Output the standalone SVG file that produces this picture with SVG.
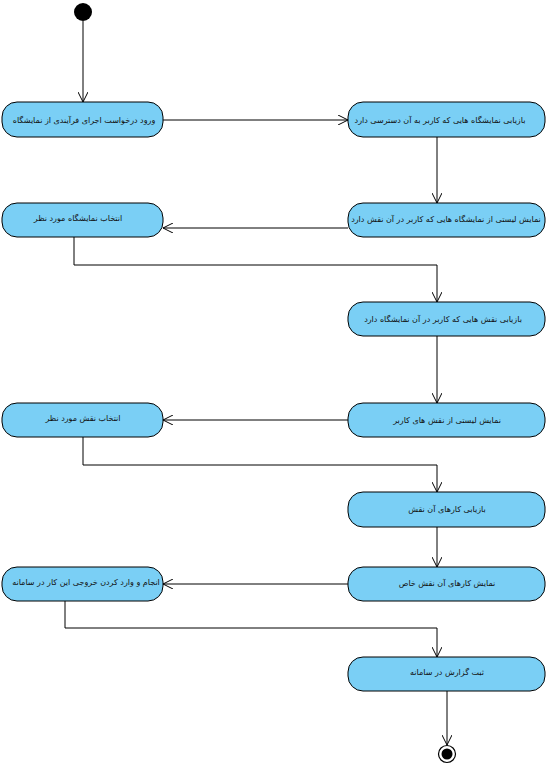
<svg xmlns="http://www.w3.org/2000/svg" width="550" height="768" viewBox="0 0 550 768">
<style>
.n{fill:#7acff5;stroke:#000;stroke-width:1}
.t{font-family:"DejaVu Sans",sans-serif;font-size:8px;fill:#111;text-anchor:middle;dominant-baseline:central}
.c{fill:none;stroke:#000;stroke-width:1}
</style>
<defs>
<marker id="a" viewBox="0 0 10 10" refX="10" refY="5" markerWidth="10" markerHeight="10" markerUnits="userSpaceOnUse" orient="auto">
<path d="M0,0 L10,5 L0,10" fill="none" stroke="#000" stroke-width="1"/>
</marker>
</defs>
<rect width="550" height="768" fill="#fff"/>
<g id="start"><circle cx="83" cy="12" r="9" fill="#000"/></g>
<g id="connectors">
<path class="c" d="M83,21 V102" marker-end="url(#a)"/>
<path class="c" d="M163,120 H348" marker-end="url(#a)"/>
<path class="c" d="M437,137 V203" marker-end="url(#a)"/>
<path class="c" d="M348,228 H163" marker-end="url(#a)"/>
<path class="c" d="M74,237 V265 H437 V302" marker-end="url(#a)"/>
<path class="c" d="M437,336 V403" marker-end="url(#a)"/>
<path class="c" d="M348,420 H163" marker-end="url(#a)"/>
<path class="c" d="M83,437 V465 H437 V492" marker-end="url(#a)"/>
<path class="c" d="M437,527 V567" marker-end="url(#a)"/>
<path class="c" d="M348,584 H163" marker-end="url(#a)"/>
<path class="c" d="M65,601 V628 H437 V657" marker-end="url(#a)"/>
<path class="c" d="M447,691 V745" marker-end="url(#a)"/>
</g>
<g id="n1"><rect class="n" x="2" y="102" width="161" height="35" rx="15"/><text class="t" x="84" y="120">ورود درخواست  اجرای  فرآیندی از نمایشگاه</text></g>
<g id="n2"><rect class="n" x="348" y="102" width="197" height="35" rx="15"/><text class="t" x="440" y="120">بازیابی نمایشگاه هایی که کاربر به آن دسترسی دارد</text></g>
<g id="n3"><rect class="n" x="2" y="203" width="161" height="34" rx="15"/><text class="t" x="78" y="218">انتخاب نمایشگاه مورد نظر</text></g>
<g id="n4"><rect class="n" x="348" y="203" width="197" height="34" rx="15"/><text class="t" x="446" y="219">نمایش لیستی از نمایشگاه هایی که کاربر در آن  نقش دارد</text></g>
<g id="n5"><rect class="n" x="348" y="302" width="197" height="34" rx="15"/><text class="t" x="443" y="319">بازیابی نقش هایی که کاربر در آن نمایشگاه دارد</text></g>
<g id="n6"><rect class="n" x="2" y="403" width="161" height="34" rx="15"/><text class="t" x="83" y="418">انتخاب نقش مورد نظر</text></g>
<g id="n7"><rect class="n" x="348" y="403" width="197" height="34" rx="15"/><text class="t" x="447" y="420">نمایش لیستی از نقش های کاربر</text></g>
<g id="n8"><rect class="n" x="348" y="492" width="197" height="35" rx="15"/><text class="t" x="447" y="509">بازیابی کارهای آن نقش</text></g>
<g id="n9"><rect class="n" x="2" y="567" width="161" height="34" rx="15"/><text class="t" x="86" y="582">انجام و وارد کردن خروجی این کار در سامانه</text></g>
<g id="n10"><rect class="n" x="348" y="567" width="197" height="34" rx="15"/><text class="t" x="447" y="583">نمایش کارهای آن نقش خاص</text></g>
<g id="n11"><rect class="n" x="348" y="657" width="197" height="34" rx="15"/><text class="t" x="447" y="672">ثبت گزارش در سامانه</text></g>
<g id="end"><circle cx="447" cy="754" r="8.5" fill="#fff" stroke="#000" stroke-width="1.2"/><circle cx="447" cy="754" r="5.5" fill="#000"/></g>
</svg>
